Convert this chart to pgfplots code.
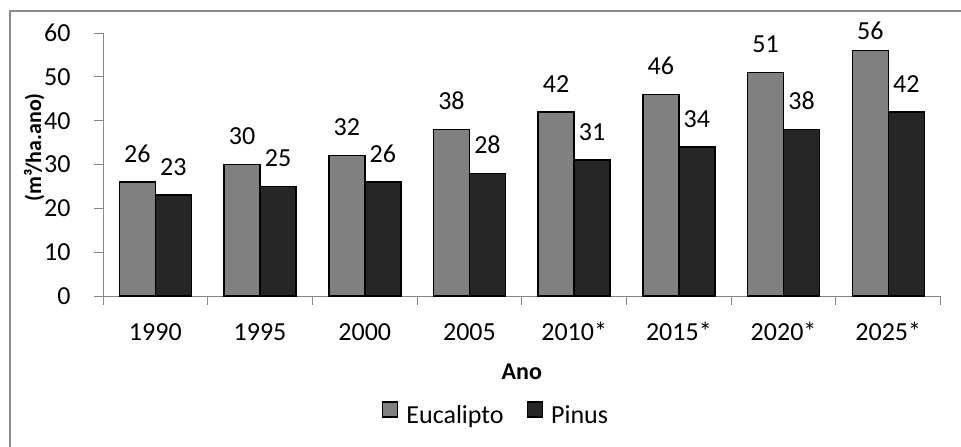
\documentclass[border=0pt]{standalone}
\usepackage{fontspec}
\setmainfont{Carlito}
\usepackage{pgfplots}
\pgfplotsset{compat=1.18}
\definecolor{axgray}{HTML}{868686}
\definecolor{framegray}{HTML}{8C8C8C}
\definecolor{euc}{HTML}{808080}
\definecolor{pin}{HTML}{262626}
\newcommand{\chartfont}{\fontsize{13pt}{15pt}\selectfont}
\begin{document}
\begin{tikzpicture}[font=\chartfont]
\useasboundingbox (0,0) rectangle (480.5pt,223pt);
% chart area border (only left and top visible)
\draw[framegray, line width=1pt] (4.75pt,-2pt) -- (4.75pt,217.75pt) -- (485pt,217.75pt);
\begin{axis}[
    at={(51.5pt,75pt)}, anchor=south west,
    scale only axis,
    width=418.8pt, height=131.5pt,
    ybar=0pt, bar width=18pt,
    xmin=-0.5, xmax=7.5, ymin=0, ymax=60,
    xtick={-0.5,0.5,...,7.5},
    x tick label as interval,
    xticklabels={1990,1995,2000,2005,2010*,2015*,2020*,2025*},
    ytick={0,10,...,60},
    axis x line*=bottom, axis y line*=left,
    axis line style={axgray, line width=0.5pt, -},
    tick style={axgray, line width=0.5pt},
    tick align=outside, major tick length=4.5pt,
    /pgf/number format/assume math mode=true,
    tick label style={font=\chartfont},
    xticklabel style={anchor=base, inner sep=0pt, yshift=-17.5pt},
    yticklabel style={anchor=east, inner sep=0pt, xshift=-11.5pt},
    xlabel={Ano},
    xlabel style={at={(axis description cs:0.5,-0.319)}, anchor=base,
        font=\fontsize{12pt}{14pt}\selectfont\bfseries},
    ylabel={(m³/ha.ano)},
    ylabel style={at={(axis description cs:-0.074,0.565)}, anchor=base,
        font=\fontsize{11pt}{13pt}\selectfont\bfseries},
    nodes near coords,
    visualization depends on={y \as \rawy},
    every node near coord/.append style={anchor=south, inner sep=0pt,
        yshift={9.5pt-4.5pt*(\rawy>55)}, text=black, font=\chartfont},
    legend columns=2,
    legend style={at={(axis description cs:0.468,-0.449)}, anchor=center,
        draw=none, fill=none, inner sep=0pt, nodes={inner sep=0pt}, font=\chartfont,
        /tikz/every odd column/.append style={column sep=4pt},
        /tikz/every even column/.append style={column sep=11.5pt}},
    legend image code/.code={\draw[#1, line width=0.75pt] (0pt,-0.5pt) rectangle (7.5pt,7pt);},
]
\addplot[draw=black, line width=0.75pt, fill=euc] coordinates {
    (0,26) (1,30) (2,32) (3,38) (4,42) (5,46) (6,51) (7,56)};
\addplot[draw=black, line width=0.75pt, fill=pin] coordinates {
    (0,23) (1,25) (2,26) (3,28) (4,31) (5,34) (6,38) (7,42)};
\legend{Eucalipto,Pinus}
\end{axis}
\end{tikzpicture}
\end{document}
